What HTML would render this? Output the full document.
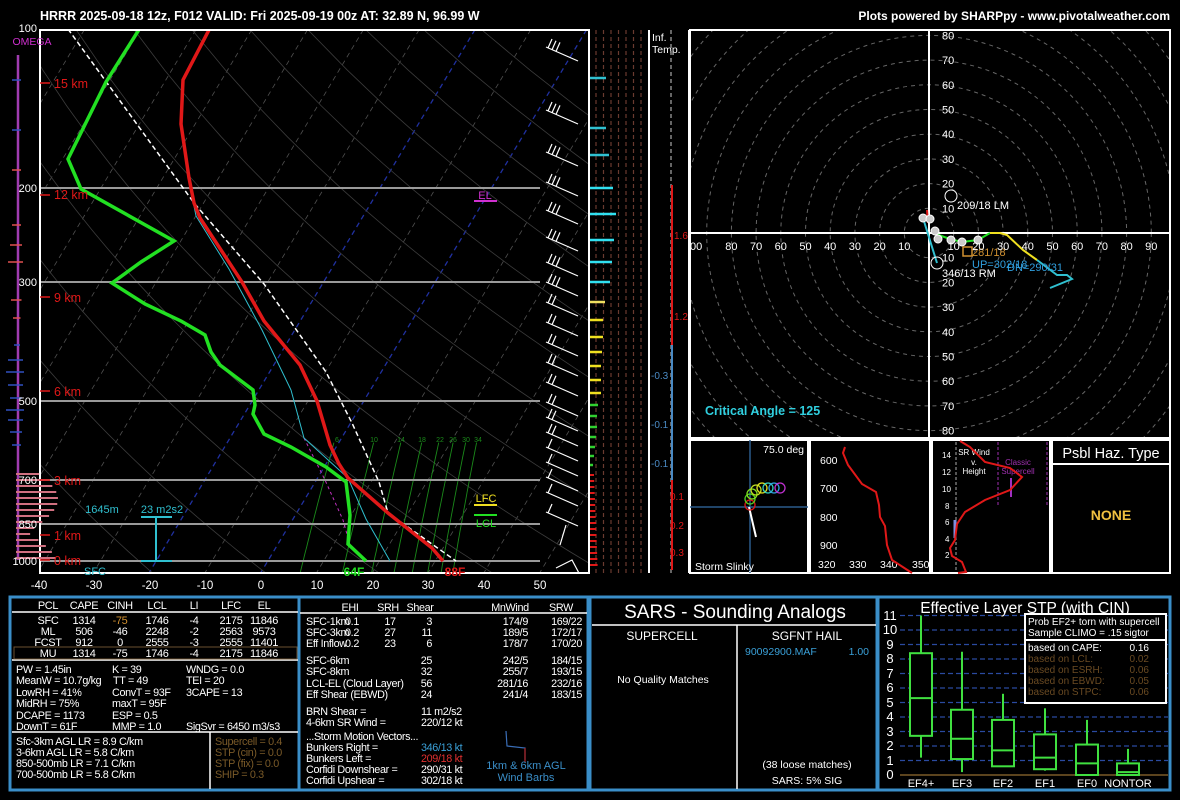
<!DOCTYPE html>
<html><head><meta charset="utf-8">
<style>
html,body{margin:0;padding:0;background:#000;}
svg{display:block;font-family:"Liberation Sans",sans-serif;}
.tb text{letter-spacing:-0.35px;}
</style></head><body>
<svg id="s" width="1180" height="800" viewBox="0 0 1180 800" xmlns="http://www.w3.org/2000/svg">
<rect width="1180" height="800" fill="#000"/>
<defs>
<clipPath id="skc"><rect x="40" y="30" width="549" height="543"/></clipPath>
<clipPath id="hc"><rect x="690" y="30" width="480" height="408"/></clipPath>
</defs>
<text x="40" y="20" fill="#fff" font-size="12.5" font-weight="bold">HRRR 2025-09-18 12z, F012  VALID: Fri 2025-09-19 00z  AT: 32.89 N, 96.99 W</text>
<text x="1170" y="20" fill="#fff" font-size="12" font-weight="bold" text-anchor="end">Plots powered by SHARPpy - www.pivotalweather.com</text>

<g id="skgrid" clip-path="url(#skc)"></g>
<g clip-path="url(#skc)" fill="none">
<g stroke="#9a9a9a" stroke-width="2">
<line x1="40" y1="188" x2="540" y2="188"/><line x1="40" y1="282" x2="540" y2="282"/>
<line x1="40" y1="401" x2="540" y2="401"/><line x1="40" y1="480" x2="540" y2="480"/>
<line x1="40" y1="524" x2="540" y2="524"/><line x1="40" y1="561" x2="540" y2="561"/>
</g>
<polyline points="304,438 325,480 343,520 350,545" stroke="#c030c0" stroke-width="1" stroke-dasharray="3,3"/>
<polyline points="189,181 196,216 229,269 262,330 291,390 304,438 348,478 366,519 390,561" stroke="#30c0d0" stroke-width="1"/>
<polyline points="68,29 194,203 264,284 326,372 352,423 379,482 388,513 456,561" stroke="#fff" stroke-width="1.5" stroke-dasharray="5,3"/>
<polyline points="140,28 106,82 68,159 81,189 174,241 141,262 112,283 145,304 181,321 205,335 211,352 220,365 253,390 255,405 253,414 264,434 291,447 326,467 346,482 350,515 348,544 366,561" stroke="#22e022" stroke-width="3.5"/>
<polyline points="210,28 183,80 181,124 189,178 194,203 200,218 242,282 264,321 300,365 317,401 330,445 339,464 348,478 388,513 432,548 443,561" stroke="#e01818" stroke-width="3.5"/>
<g stroke="#fff" stroke-width="1.2" id="barbs"></g>
</g>
<rect x="40" y="30" width="549" height="543" fill="none" stroke="#fff" stroke-width="2"/>
<line x1="18" y1="55" x2="18" y2="560" stroke="#a03cb0" stroke-width="2.5"/>
<g id="omg"></g>
<text x="32" y="45" fill="#d030d0" font-size="10.5" text-anchor="middle">OMEGA</text>
<g fill="#fff" font-size="11" text-anchor="end">
<text x="37" y="32">100</text><text x="37" y="192">200</text><text x="37" y="286">300</text><text x="37" y="405">500</text><text x="37" y="484">700</text><text x="37" y="528">850</text><text x="37" y="565">1000</text>
</g>
<g fill="#e01818" font-size="12.5">
<text x="54" y="88">15 km</text><text x="54" y="199">12 km</text><text x="54" y="302">9 km</text><text x="54" y="396">6 km</text><text x="54" y="485">3 km</text><text x="54" y="540">1 km</text><text x="54" y="565">0 km</text>
</g>
<g stroke="#e01818" stroke-width="1.5"><line x1="40" y1="83" x2="50" y2="83"/><line x1="40" y1="195" x2="50" y2="195"/><line x1="40" y1="297" x2="50" y2="297"/><line x1="40" y1="391" x2="50" y2="391"/><line x1="40" y1="480" x2="50" y2="480"/><line x1="40" y1="535" x2="50" y2="535"/><line x1="40" y1="560" x2="50" y2="560"/></g>
<g fill="#fff" font-size="11.5" text-anchor="middle">
<text x="39" y="589">-40</text><text x="94" y="589">-30</text><text x="150" y="589">-20</text><text x="205" y="589">-10</text><text x="261" y="589">0</text><text x="317" y="589">10</text><text x="373" y="589">20</text><text x="428" y="589">30</text><text x="484" y="589">40</text><text x="540" y="589">50</text>
</g>
<g fill="#1a8a1a" font-size="7" text-anchor="middle"><text x="337" y="442">6</text><text x="374" y="442">10</text><text x="401" y="442">14</text><text x="422" y="442">18</text><text x="440" y="442">22</text><text x="453" y="442">26</text><text x="466" y="442">30</text><text x="478" y="442">34</text></g>
<text x="95" y="575" fill="#30c0d0" font-size="11" text-anchor="middle">SFC</text>
<text x="354" y="576" fill="#22e022" font-size="12" font-weight="bold" text-anchor="middle">64F</text>
<text x="455" y="576" fill="#e01818" font-size="12" font-weight="bold" text-anchor="middle">88F</text>
<text x="102" y="513" fill="#30c0d0" font-size="11" text-anchor="middle">1645m</text>
<text x="162" y="513" fill="#30c0d0" font-size="11" text-anchor="middle">23 m2s2</text>
<g stroke="#30c0d0" stroke-width="2"><line x1="141" y1="517" x2="172" y2="517"/><line x1="156" y1="517" x2="156" y2="561"/><line x1="141" y1="561" x2="172" y2="561"/></g>
<text x="485" y="199" fill="#d030d0" font-size="11" text-anchor="middle">EL</text>
<line x1="474" y1="201" x2="497" y2="201" stroke="#d030d0" stroke-width="2"/>
<text x="486" y="502" fill="#f0e020" font-size="11" text-anchor="middle">LFC</text>
<line x1="474" y1="505" x2="497" y2="505" stroke="#f0e020" stroke-width="2"/>
<line x1="474" y1="515" x2="497" y2="515" stroke="#22e022" stroke-width="2"/>
<text x="486" y="527" fill="#22e022" font-size="11" text-anchor="middle">LCL</text>

<g id="cols"></g>
<line x1="649" y1="30" x2="649" y2="573" stroke="#fff" stroke-width="2"/>
<line x1="689" y1="30" x2="689" y2="573" stroke="#fff" stroke-width="2"/>
<text x="652" y="41" fill="#fff" font-size="10.5">Inf.</text><text x="652" y="53" fill="#fff" font-size="10.5">Temp.</text>
<line x1="671" y1="30" x2="671" y2="573" stroke="#888" stroke-width="1.5" stroke-dasharray="4,3"/>
<line x1="672" y1="185" x2="672" y2="345" stroke="#e01818" stroke-width="2"/>
<line x1="672" y1="345" x2="672" y2="480" stroke="#4a8ac4" stroke-width="2"/>
<line x1="672" y1="480" x2="672" y2="570" stroke="#e01818" stroke-width="2"/>
<g font-size="10"><text x="674" y="239" fill="#e01818">1.6</text><text x="674" y="320" fill="#e01818">1.2</text><text x="651" y="379" fill="#4a8ac4">-0.3</text><text x="651" y="428" fill="#4a8ac4">-0.1</text><text x="651" y="467" fill="#4a8ac4">-0.1</text><text x="670" y="500" fill="#e01818">0.1</text><text x="670" y="529" fill="#e01818">0.2</text><text x="670" y="556" fill="#e01818">0.3</text></g>

<!-- hodograph -->
<g clip-path="url(#hc)" id="hodo"></g>
<g clip-path="url(#hc)">
<line x1="690" y1="233" x2="1170" y2="233" stroke="#fff" stroke-width="2"/>
<line x1="929" y1="30" x2="929" y2="438" stroke="#fff" stroke-width="2"/>
<g fill="none" stroke-width="2">
<polyline points="927,210 928,223" stroke="#e01818"/>
<polyline points="923,218 937,263" stroke="#30c0d0"/>
<polyline points="933,233 950,239 962,242 978,240 990,233" stroke="#22e022"/>
<polyline points="990,233 1000,233 1007,235 1023,250 1037,260" stroke="#f0e020"/>
<polyline points="1037,260 1057,275 1067,275 1072,279 1050,288" stroke="#30c0d0"/>
</g>
<g fill="#ccc" stroke="#fff"><circle cx="923" cy="218" r="4"/><circle cx="930" cy="219" r="4"/><circle cx="935" cy="231" r="4"/><circle cx="938" cy="239" r="4"/><circle cx="951" cy="240" r="4"/><circle cx="962" cy="242" r="4"/><circle cx="978" cy="240" r="4"/></g>
<circle cx="951" cy="196" r="6" fill="none" stroke="#fff"/>
<circle cx="937" cy="263" r="6" fill="none" stroke="#fff"/>
<rect x="963" y="247" width="9" height="9" fill="none" stroke="#d09030" stroke-width="1.5"/>
<g font-size="11" fill="#fff"><text x="957" y="209">209/18 LM</text><text x="942" y="277">346/13 RM</text></g>
<text x="972" y="256" font-size="11" fill="#d09030">281/18</text>
<text x="972" y="268" font-size="11" fill="#30a0e0">UP=302/18</text>
<text x="1007" y="271" font-size="11" fill="#30a0e0">DN=290/31</text>
</g>
<g font-size="11" fill="#fff" id="hlab"></g>
<text x="705" y="415" fill="#30d0e0" font-size="12.5" font-weight="bold">Critical Angle = 125</text>
<rect x="690" y="30" width="480" height="408" fill="none" stroke="#fff" stroke-width="2"/>

<!-- lower insets -->
<g fill="none" stroke="#fff" stroke-width="2">
<rect x="690" y="440" width="118" height="133"/><rect x="810" y="440" width="120" height="133"/>
<rect x="932" y="440" width="118" height="133"/><rect x="1052" y="440" width="118" height="133"/>
<line x1="1052" y1="464" x2="1170" y2="464"/>
</g>
<line x1="750" y1="440" x2="750" y2="573" stroke="#2a5a8a" stroke-width="1.5"/>
<line x1="690" y1="507" x2="808" y2="507" stroke="#2a5a8a" stroke-width="1.5"/>
<line x1="749" y1="507" x2="756" y2="537" stroke="#fff" stroke-width="2"/>
<g fill="none" stroke-width="1.3">
<circle cx="750" cy="505" r="5" stroke="#e01818"/><circle cx="750" cy="499" r="5" stroke="#50d020"/><circle cx="752" cy="494" r="5" stroke="#80e020"/><circle cx="756" cy="490" r="5" stroke="#c0e020"/><circle cx="762" cy="488" r="5" stroke="#e0e020"/><circle cx="768" cy="488" r="5" stroke="#30d0c0"/><circle cx="774" cy="488" r="5" stroke="#30a0e0"/><circle cx="780" cy="488" r="5" stroke="#c030d0"/>
</g>
<text x="804" y="453" fill="#fff" font-size="10.5" text-anchor="end">75.0 deg</text>
<text x="695" y="570" fill="#fff" font-size="10.5">Storm Slinky</text>
<g fill="#fff" font-size="10.5"><text x="820" y="464">600</text><text x="820" y="492">700</text><text x="820" y="521">800</text><text x="820" y="549">900</text>
<text x="818" y="568">320</text><text x="849" y="568">330</text><text x="880" y="568">340</text><text x="912" y="568">350</text></g>
<polyline points="845,447 843,453 848,465 862,484 876,492 879,505 880,517 885,526 887,545 892,560 912,573" fill="none" stroke="#e01818" stroke-width="2"/>
<line x1="956" y1="442" x2="956" y2="572" stroke="#aaa" stroke-dasharray="3,2"/>
<line x1="998" y1="442" x2="998" y2="505" stroke="#a030b0" stroke-dasharray="3,2"/>
<line x1="1047" y1="442" x2="1047" y2="505" stroke="#a030b0" stroke-dasharray="3,2"/>
<g fill="#fff" font-size="8"><text x="942" y="458">14</text><text x="942" y="475">12</text><text x="942" y="492">10</text><text x="945" y="509">8</text><text x="945" y="525">6</text><text x="945" y="542">4</text><text x="945" y="558">2</text></g>
<g fill="#fff" font-size="8" text-anchor="middle"><text x="974" y="455">SR Wind</text><text x="974" y="465">v.</text><text x="974" y="474">Height</text></g>
<g fill="#a030b0" font-size="8" text-anchor="middle"><text x="1018" y="465">Classic</text><text x="1018" y="474">Supercell</text></g>
<line x1="1011" y1="478" x2="1011" y2="497" stroke="#a030c0" stroke-width="2"/>
<line x1="955" y1="520" x2="955" y2="538" stroke="#8090e0" stroke-width="3"/>
<polyline points="960,441 970,447 985,462 1010,468 1022,477 1010,490 985,500 965,512 957,524 955,540 950,548 952,556 962,562 966,572 958,573" fill="none" stroke="#e01818" stroke-width="2"/>
<text x="1111" y="458" fill="#fff" font-size="14.5" text-anchor="middle">Psbl Haz. Type</text>
<text x="1111" y="520" fill="#f0c040" font-size="14" font-weight="bold" text-anchor="middle">NONE</text>

<!-- bottom panels -->
<g fill="none" stroke="#3a8ec8" stroke-width="3">
<rect x="10" y="597" width="578" height="193"/><rect x="590" y="597" width="287" height="193"/><rect x="878" y="597" width="292" height="193"/>
<line x1="299" y1="597" x2="299" y2="790"/>
</g>
<g stroke="#fff" stroke-width="1.5">
<line x1="12" y1="612" x2="298" y2="612"/><line x1="12" y1="660" x2="298" y2="660"/><line x1="12" y1="732" x2="298" y2="732"/><line x1="210" y1="732" x2="210" y2="789"/>
<line x1="300" y1="613" x2="587" y2="613"/>
<line x1="592" y1="625" x2="876" y2="625"/><line x1="737" y1="625" x2="737" y2="789"/>
</g>
<rect x="14" y="647" width="283" height="12" fill="none" stroke="#6a5030" stroke-width="1"/>
<g class="tb">
<g fill="#fff" font-size="11" text-anchor="middle">
<text x="48" y="609">PCL</text><text x="84" y="609">CAPE</text><text x="120" y="609">CINH</text><text x="157" y="609">LCL</text><text x="194" y="609">LI</text><text x="231" y="609">LFC</text><text x="264" y="609">EL</text>
<text x="48" y="624">SFC</text><text x="84" y="624">1314</text><text x="120" y="624" fill="#d09030">-75</text><text x="157" y="624">1746</text><text x="194" y="624">-4</text><text x="231" y="624">2175</text><text x="264" y="624">11846</text>
<text x="48" y="635">ML</text><text x="84" y="635">506</text><text x="120" y="635">-46</text><text x="157" y="635">2248</text><text x="194" y="635">-2</text><text x="231" y="635">2563</text><text x="264" y="635">9573</text>
<text x="48" y="646">FCST</text><text x="84" y="646">912</text><text x="120" y="646">0</text><text x="157" y="646">2555</text><text x="194" y="646">-3</text><text x="231" y="646">2555</text><text x="264" y="646">11401</text>
<text x="48" y="657">MU</text><text x="84" y="657">1314</text><text x="120" y="657">-75</text><text x="157" y="657">1746</text><text x="194" y="657">-4</text><text x="231" y="657">2175</text><text x="264" y="657">11846</text>
</g>
<g fill="#fff" font-size="10.8">
<text x="16" y="673">PW = 1.45in</text><text x="112" y="673">K = 39</text><text x="186" y="673">WNDG = 0.0</text>
<text x="16" y="684">MeanW = 10.7g/kg</text><text x="113" y="684">TT = 49</text><text x="186" y="684">TEI = 20</text>
<text x="16" y="696">LowRH = 41%</text><text x="112" y="696">ConvT = 93F</text><text x="186" y="696">3CAPE = 13</text>
<text x="16" y="707">MidRH = 75%</text><text x="112" y="707">maxT = 95F</text>
<text x="16" y="719">DCAPE = 1173</text><text x="112" y="719">ESP = 0.5</text>
<text x="16" y="730">DownT = 61F</text><text x="112" y="730">MMP = 1.0</text><text x="186" y="730">SigSvr = 6450 m3/s3</text>
<text x="16" y="745">Sfc-3km AGL LR = 8.9 C/km</text><text x="16" y="756">3-6km AGL LR = 5.8 C/km</text><text x="16" y="767">850-500mb LR = 7.1 C/km</text><text x="16" y="778">700-500mb LR = 5.8 C/km</text>
</g>
<g fill="#7a5a28" font-size="10.8"><text x="215" y="745">Supercell = 0.4</text><text x="215" y="756">STP (cin) = 0.0</text><text x="215" y="767">STP (fix) = 0.0</text><text x="215" y="778">SHIP = 0.3</text></g>
<g fill="#fff" font-size="10.8">
<g text-anchor="middle"><text x="350" y="611">EHI</text><text x="388" y="611">SRH</text><text x="420" y="611">Shear</text><text x="510" y="611">MnWind</text><text x="561" y="611">SRW</text></g>
<text x="306" y="625">SFC-1km</text><text x="306" y="636">SFC-3km</text><text x="306" y="647">Eff Inflow</text>
<text x="306" y="664">SFC-6km</text><text x="306" y="675">SFC-8km</text><text x="306" y="687">LCL-EL (Cloud Layer)</text><text x="306" y="698">Eff Shear (EBWD)</text>
<g text-anchor="middle"><text x="352" y="625">0.1</text><text x="352" y="636">0.2</text><text x="352" y="647">0.2</text><text x="390" y="625">17</text><text x="390" y="636">27</text><text x="390" y="647">23</text></g>
<g text-anchor="end"><text x="432" y="625">3</text><text x="432" y="636">11</text><text x="432" y="647">6</text><text x="432" y="664">25</text><text x="432" y="675">32</text><text x="432" y="687">56</text><text x="432" y="698">24</text>
<text x="528" y="625">174/9</text><text x="528" y="636">189/5</text><text x="528" y="647">178/7</text><text x="528" y="664">242/5</text><text x="528" y="675">255/7</text><text x="528" y="687">281/16</text><text x="528" y="698">241/4</text>
<text x="582" y="625">169/22</text><text x="582" y="636">172/17</text><text x="582" y="647">170/20</text><text x="582" y="664">184/15</text><text x="582" y="675">193/15</text><text x="582" y="687">232/16</text><text x="582" y="698">183/15</text></g>
<text x="306" y="715">BRN Shear =</text><text x="306" y="726">4-6km SR Wind =</text>
<text x="421" y="715">11 m2/s2</text><text x="421" y="726">220/12 kt</text>
<text x="306" y="740">...Storm Motion Vectors...</text>
<text x="306" y="751">Bunkers Right =</text><text x="306" y="762">Bunkers Left =</text><text x="306" y="773">Corfidi Downshear =</text><text x="306" y="784">Corfidi Upshear =</text>
<text x="421" y="751" fill="#3aa0d8">346/13 kt</text><text x="421" y="762" fill="#e03030">209/18 kt</text><text x="421" y="773">290/31 kt</text><text x="421" y="784">302/18 kt</text>
</g>
</g>
<polyline points="506,731 507,746 525,748 525,760" fill="none" stroke="#3a6eb8" stroke-width="1.2"/>
<line x1="525" y1="748" x2="525" y2="762" stroke="#b02020" stroke-width="1.2"/>
<g fill="#3a8ec8" font-size="11" text-anchor="middle"><text x="526" y="769">1km &amp; 6km AGL</text><text x="526" y="781">Wind Barbs</text></g>
<text x="735" y="618" fill="#fff" font-size="19" text-anchor="middle">SARS - Sounding Analogs</text>
<g fill="#fff" font-size="12" text-anchor="middle"><text x="662" y="640">SUPERCELL</text><text x="807" y="640">SGFNT HAIL</text></g>
<text x="745" y="655" fill="#3aa0d8" font-size="10.5">90092900.MAF</text><text x="869" y="655" fill="#3aa0d8" font-size="10.5" text-anchor="end">1.00</text>
<g fill="#fff" font-size="10.5" text-anchor="middle"><text x="663" y="683">No Quality Matches</text><text x="807" y="768">(38 loose matches)</text><text x="807" y="784">SARS: 5% SIG</text></g>

<text x="1025" y="613" fill="#fff" font-size="15.5" text-anchor="middle">Effective Layer STP (with CIN)</text>
<g id="stp"></g>
<g fill="#fff" font-size="13" text-anchor="middle">
<text x="890" y="620">11</text><text x="890" y="634">10</text><text x="890" y="649">9</text><text x="890" y="663">8</text><text x="890" y="678">7</text><text x="890" y="692">6</text><text x="890" y="707">5</text><text x="890" y="721">4</text><text x="890" y="736">3</text><text x="890" y="750">2</text><text x="890" y="765">1</text><text x="890" y="779">0</text>
</g>
<g fill="#fff" font-size="11" text-anchor="middle"><text x="921" y="787">EF4+</text><text x="962" y="787">EF3</text><text x="1003" y="787">EF2</text><text x="1045" y="787">EF1</text><text x="1087" y="787">EF0</text><text x="1128" y="787">NONTOR</text></g>
<rect x="1025" y="614" width="141" height="89" fill="#000" stroke="#fff" stroke-width="2"/>
<line x1="1025" y1="640" x2="1166" y2="640" stroke="#fff" stroke-width="2"/>
<g font-size="10"><text x="1028" y="625" fill="#fff">Prob EF2+ torn with supercell</text><text x="1028" y="636" fill="#fff">Sample CLIMO = .15 sigtor</text>
<text x="1028" y="651" fill="#fff">based on CAPE:</text><text x="1149" y="651" fill="#fff" text-anchor="end">0.16</text>
<g fill="#6a4a22"><text x="1028" y="662">based on LCL:</text><text x="1028" y="673">based on ESRH:</text><text x="1028" y="684">based on EBWD:</text><text x="1028" y="695">based on STPC:</text></g>
<g fill="#6a4a22" text-anchor="end"><text x="1149" y="662">0.02</text><text x="1149" y="673">0.06</text><text x="1149" y="684">0.05</text><text x="1149" y="695">0.06</text></g>
</g>
</svg>
<script>
(function(){
var NS="http://www.w3.org/2000/svg";
function el(p,t,a){var e=document.createElementNS(NS,t);for(var k in a)e.setAttribute(k,a[k]);p.appendChild(e);return e;}
function Y(p){return 28+231.4*Math.log(p/100);}
function X(T,p){return 38+(T+40)*5.58+(572-Y(p))*0.6;}
var g=document.getElementById('skgrid');
for(var T=-160;T<=50;T+=10){
 var c=(T==0||T==-20)?'#2030a0':'#505050';
 el(g,'line',{x1:X(T,1060),y1:Y(1060),x2:X(T,100),y2:Y(100),stroke:c,'stroke-width':(c=='#505050'?0.8:1.3),'stroke-dasharray':'5,4'});
}
for(var th=250;th<=500;th+=20){
 var pts=[];for(var p=1060;p>=100;p-=20){var t=th*Math.pow(p/1000,0.2857)-273.15;pts.push(X(t,p).toFixed(1)+','+Y(p).toFixed(1));}
 el(g,'polyline',{points:pts.join(' '),fill:'none',stroke:'#3c3c3c','stroke-width':0.8});
}
[6,10,14,18,22,26,30,34].forEach(function(w){
 var pts=[];for(var p=1060;p>=600;p-=20){var e=w*p/(622+w);var l=Math.log(e/6.112);var td=243.5*l/(17.67-l);pts.push(X(td,p).toFixed(1)+','+Y(p).toFixed(1));}
 el(g,'polyline',{points:pts.join(' '),fill:'none',stroke:'#1a8a1a','stroke-width':0.9});
});
var b=document.getElementById('barbs');
[55,118,160,190,218,245,270,290,310,330,350,370,390,410,425,440,455,470,485,500,520].forEach(function(y,i){
 var n=i<8?3:(i<16?2:1);
 el(b,'line',{x1:546,y1:y-8,x2:578,y2:y+6});
 for(var k=0;k<n;k++){var x0=548+k*4,y0=y-7+k*1.7;el(b,'line',{x1:x0,y1:y0,x2:x0+4,y2:y0-9});}
});
el(b,'polyline',{points:'560,545 566,525',fill:'none'});
el(b,'polyline',{points:'556,568 572,560 580,575',fill:'none'});
var c=document.getElementById('cols');
for(var x=596;x<=642;x+=7.5)el(c,'line',{x1:x,y1:30,x2:x,y2:573,stroke:'#6a3a30','stroke-width':1.2,'stroke-dasharray':'4,3'});
var bars=[[78,606,'#30c0d0'],[128,606,'#30c0d0'],[155,609,'#30c0d0'],[188,613,'#30e0f0'],[214,616,'#30e0f0'],[240,614,'#30e0f0'],[262,612,'#30e0f0'],[282,610,'#30e0f0'],[302,605,'#f0e060'],[320,603,'#f0e020'],[337,603,'#f0e020'],[352,602,'#f0e020'],[366,601,'#f0e020'],[380,601,'#f0e020'],[393,601,'#f0e020'],[405,598,'#30d030'],[416,597,'#30d030'],[427,597,'#30d030'],[437,596,'#30d030'],[447,595,'#30d030'],[456,594,'#30d030'],[465,593,'#30d030']];
bars.forEach(function(a){el(c,'line',{x1:590,y1:a[0],x2:a[1],y2:a[0],stroke:a[2],'stroke-width':2.5});});
for(var y=475;y<570;y+=6)el(c,'line',{x1:590,y1:y,x2:594+(y-475)/25,y2:y,stroke:'#e01818','stroke-width':2});
var o=document.getElementById('omg');
[[80,'#3050c0',6],[130,'#3050c0',6],[170,'#e05050',6],[225,'#e05050',6],[245,'#e05050',8],[262,'#e05050',10],[300,'#e05050',7],[318,'#e05050',5],[345,'#3050c0',4],[360,'#3050c0',10],[372,'#3050c0',12],[385,'#3050c0',10],[398,'#3050c0',8],[410,'#3050c0',12],[420,'#3050c0',10],[432,'#3050c0',8],[445,'#3050c0',6]].forEach(function(a){el(o,'line',{x1:18-a[2],y1:a[0],x2:18+a[2]/2,y2:a[0],stroke:a[1],'stroke-width':1.5});});
for(var y=474;y<560;y+=6){var L=12+Math.abs(Math.sin(y))*30;el(o,'line',{x1:16,y1:y,x2:16+L,y2:y,stroke:'#d07080','stroke-width':2});}
var h=document.getElementById('hodo');
for(var k=1;k<=12;k++)el(h,'circle',{cx:929,cy:233,r:24.7*k,fill:'none',stroke:'#666','stroke-width':1,'stroke-dasharray':'4,4'});
var hl=document.getElementById('hlab');
for(var k=1;k<=9;k++){
 var t1=el(hl,'text',{x:929+24.7*k,y:250,'text-anchor':'middle'});t1.textContent=10*k;
 var t2=el(hl,'text',{x:929-24.7*k,y:250,'text-anchor':'middle'});t2.textContent=(k==9?'':10*k);
 if(k<=8){var t3=el(hl,'text',{x:942,y:233-24.7*k+4,'text-anchor':'start'});t3.textContent=10*k;
 var t4=el(hl,'text',{x:942,y:233+24.7*k+4,'text-anchor':'start'});t4.textContent=10*k;}
}
var t5=el(hl,'text',{x:690,y:250});t5.textContent='00';
var s=document.getElementById('stp');function V(v){return 775-14.5*v;}
for(var i=1;i<=11;i++)el(s,'line',{x1:900,y1:V(i),x2:1168,y2:V(i),stroke:'#2a4aa0','stroke-width':1.3,'stroke-dasharray':'5,3'});
el(s,'line',{x1:900,y1:V(0),x2:1168,y2:V(0),stroke:'#7a5a28','stroke-width':1.5});
[[921,1.2,11,2.7,8.4,5.3],[962,0.2,8.5,1.1,4.5,2.5],[1003,0.6,5.6,0.6,3.8,1.7],[1045,0.3,4.6,0.4,2.8,1.2],[1087,0,3.8,0,2.1,0.8],[1128,0,1.8,0,0.8,0.2]].forEach(function(a){
 var x=a[0],w=11;
 el(s,'line',{x1:x,y1:V(a[1]),x2:x,y2:V(a[2]),stroke:'#40e040','stroke-width':2});
 el(s,'rect',{x:x-w,y:V(a[4]),width:2*w,height:V(a[3])-V(a[4]),fill:'#000',stroke:'#40e040','stroke-width':2});
 el(s,'line',{x1:x-w,y1:V(a[5]),x2:x+w,y2:V(a[5]),stroke:'#40e040','stroke-width':2});
});
})();
</script>
</body></html>
